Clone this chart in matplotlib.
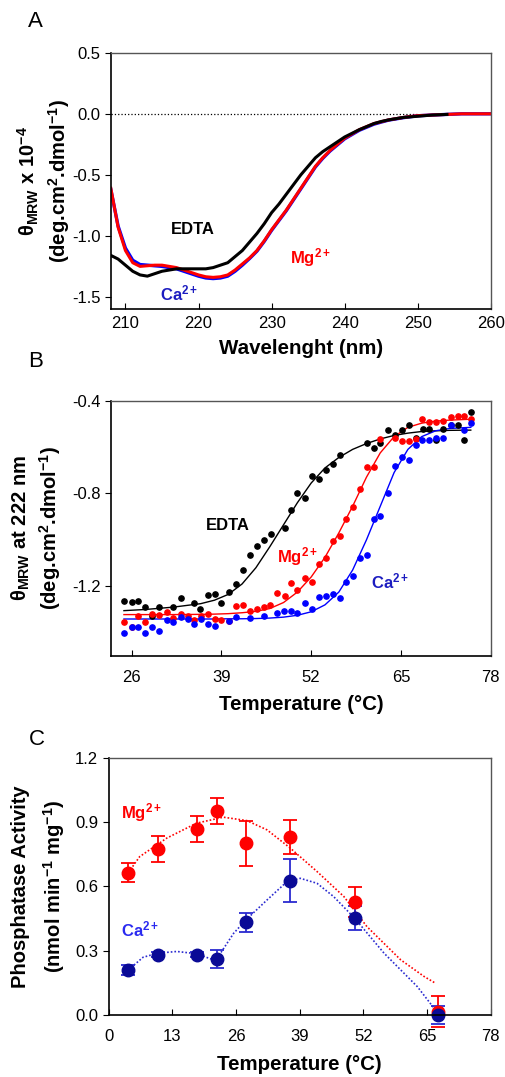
import numpy as np
import matplotlib
matplotlib.use("Agg")
import matplotlib.pyplot as plt

plt.rcParams['font.family'] = ['Liberation Sans', 'DejaVu Sans']
plt.rcParams['mathtext.fontset'] = 'custom'
plt.rcParams['mathtext.rm'] = 'Liberation Sans'
plt.rcParams['mathtext.bf'] = 'Liberation Sans:bold'
plt.rcParams['mathtext.it'] = 'Liberation Sans:italic'
plt.rcParams['mathtext.default'] = 'bf'
plt.rcParams['axes.unicode_minus'] = False

# ==== A: CD spectra ====
wl = [208, 209, 210, 211, 212, 213, 214, 215, 216, 217, 218, 219, 220, 221, 222,
      223, 224, 225, 226, 227, 228, 229, 230, 231, 232, 233, 234, 235, 236, 237,
      238, 239, 240, 242, 244, 245, 246, 248, 250, 252, 254, 256, 258, 260]
cd_edta = [-1.16, -1.19, -1.24, -1.29, -1.32, -1.33, -1.31, -1.29, -1.28, -1.27, -1.27, -1.27, -1.27, -1.27, -1.26,
           -1.24, -1.22, -1.17, -1.12, -1.05, -0.98, -0.90, -0.81, -0.74, -0.66, -0.58, -0.50, -0.43, -0.36, -0.31,
           -0.27, -0.23, -0.19, -0.13, -0.08, -0.063, -0.05, -0.03, -0.02, -0.01, -0.005, np.nan, np.nan, np.nan]
cd_mg = [-0.61, -0.93, -1.12, -1.22, -1.25, -1.245, -1.24, -1.24, -1.25, -1.26, -1.28, -1.30, -1.32, -1.335, -1.34,
         -1.335, -1.32, -1.28, -1.23, -1.18, -1.12, -1.04, -0.95, -0.87, -0.79, -0.70, -0.61, -0.52, -0.43, -0.36,
         -0.30, -0.25, -0.20, -0.13, -0.08, -0.065, -0.05, -0.03, -0.015, -0.01, -0.005, 0.0, 0.0, 0.0]
cd_ca = [-0.62, -0.92, -1.10, -1.20, -1.235, -1.24, -1.245, -1.25, -1.26, -1.27, -1.29, -1.31, -1.33, -1.345, -1.35,
         -1.345, -1.33, -1.29, -1.24, -1.185, -1.125, -1.045, -0.955, -0.875, -0.795, -0.705, -0.615, -0.525, -0.435, -0.365,
         -0.305, -0.255, -0.205, -0.135, -0.085, -0.068, -0.052, -0.032, -0.016, -0.01, -0.005, 0.0, 0.0, 0.0]

# ==== B: thermal melts ====
t_edta = [24.9, 26.0, 27.0, 28.0, 29.0, 30.0, 32.0, 33.2, 35.1, 35.9, 37.0, 38.1, 39.0, 40.1, 41.1,
          42.2, 43.2, 44.1, 45.1, 46.2, 48.2, 49.1, 50.0, 51.1, 52.1, 53.1, 54.1, 55.1, 56.1, 60.1,
          61.1, 62.0, 63.1, 64.1, 65.2, 66.1, 67.1, 68.2, 69.1, 70.1, 71.1, 72.2, 73.2, 74.1, 75.1]
y_edta = [-1.262, -1.269, -1.262, -1.29, -1.327, -1.29, -1.29, -1.25, -1.27, -1.30, -1.237, -1.233, -1.27, -1.225, -1.19,
          -1.128, -1.067, -1.025, -1.002, -0.974, -0.949, -0.873, -0.798, -0.818, -0.723, -0.737, -0.70, -0.671, -0.633, -0.584,
          -0.606, -0.584, -0.528, -0.548, -0.528, -0.505, -0.56, -0.524, -0.522, -0.57, -0.522, -0.505, -0.505, -0.57, -0.448]

t_mg = [24.9, 26.0, 27.0, 28.0, 29.0, 30.0, 31.1, 32.0, 33.2, 34.1, 35.1, 36.0, 37.0, 38.1, 39.0, 40.1,
        41.1, 42.2, 43.2, 44.1, 45.1, 46.1, 47.1, 48.2, 49.1, 50.0, 51.1, 52.1, 53.1, 54.1, 55.1, 56.1,
        57.1, 58.0, 59.0, 60.1, 61.1, 62.0, 64.1, 65.2, 66.1, 67.1, 68.1, 69.1, 70.1, 71.1, 72.2, 73.2, 74.1, 75.1]
y_mg = [-1.355, -1.377, -1.33, -1.355, -1.318, -1.322, -1.31, -1.335, -1.318, -1.33, -1.345, -1.33, -1.318, -1.34, -1.345, -1.35,
        -1.286, -1.28, -1.305, -1.30, -1.29, -1.28, -1.229, -1.24, -1.187, -1.216, -1.164, -1.18, -1.103, -1.077, -1.007, -0.984,
        -0.912, -0.858, -0.78, -0.685, -0.685, -0.566, -0.56, -0.574, -0.574, -0.566, -0.479, -0.49, -0.494, -0.488, -0.469, -0.466, -0.466, -0.48]

t_ca = [24.9, 26.0, 27.0, 28.0, 29.0, 30.0, 31.1, 32.0, 33.2, 34.1, 35.1, 36.0, 37.0, 38.1, 40.1, 41.1,
        43.2, 45.1, 47.0, 48.0, 49.1, 50.0, 51.1, 52.1, 53.1, 54.1, 55.1, 56.1, 57.1, 58.0, 59.0, 60.1,
        61.1, 62.0, 63.1, 64.1, 65.2, 66.1, 67.1, 68.1, 69.1, 70.1, 71.1, 72.2, 74.1, 75.1]
y_ca = [-1.403, -1.377, -1.377, -1.403, -1.377, -1.394, -1.345, -1.355, -1.334, -1.34, -1.363, -1.34, -1.363, -1.37, -1.348, -1.334,
        -1.337, -1.33, -1.315, -1.305, -1.305, -1.315, -1.273, -1.298, -1.247, -1.244, -1.233, -1.252, -1.182, -1.154, -1.077, -1.067,
        -0.912, -0.899, -0.798, -0.681, -0.645, -0.656, -0.592, -0.57, -0.57, -0.563, -0.56, -0.505, -0.527, -0.498]

# fitted curves
t_fit = [24.9, 28, 32, 36, 38, 40, 42, 44, 46, 48, 50, 52, 54, 56, 58, 60, 62, 64, 66, 68, 70, 72, 75.1]
fit_edta = [-1.305, -1.30, -1.29, -1.275, -1.26, -1.235, -1.19, -1.12, -1.03, -0.935, -0.84, -0.755, -0.69, -0.645, -0.61,
            -0.585, -0.565, -0.55, -0.54, -0.533, -0.53, -0.528, -0.527]
fit_mg = [-1.322, -1.322, -1.322, -1.321, -1.32, -1.318, -1.314, -1.308, -1.296, -1.27, -1.225, -1.16, -1.075, -0.97, -0.855,
          -0.73, -0.625, -0.555, -0.515, -0.497, -0.488, -0.484, -0.48]
fit_ca = [-1.341, -1.341, -1.341, -1.341, -1.341, -1.34, -1.34, -1.339, -1.337, -1.333, -1.325, -1.31, -1.28, -1.225, -1.13,
          -1.00, -0.855, -0.71, -0.61, -0.555, -0.53, -0.52, -0.515]

# ==== C: phosphatase activity ====
t_act = [4.0, 10.0, 18.1, 22.0, 28.0, 37.1, 50.2, 67.2]
act_mg = [0.664, 0.773, 0.867, 0.951, 0.80, 0.829, 0.526, 0.016]
err_mg = [0.046, 0.062, 0.062, 0.062, 0.105, 0.078, 0.07, 0.073]
act_ca = [0.210, 0.28, 0.28, 0.26, 0.432, 0.625, 0.451, 0.0]
err_ca = [0.022, 0.012, 0.012, 0.043, 0.045, 0.10, 0.055, 0.04]

t_dot_mg = [4.0, 6.3, 11.8, 17.9, 23.4, 28.2, 32.3, 37.1, 42.5, 48.0, 52.7, 59.6, 64.4, 66.7]
dot_mg = [0.664, 0.738, 0.824, 0.894, 0.922, 0.906, 0.863, 0.777, 0.669, 0.552, 0.412, 0.257, 0.179, 0.148]
t_dot_ca = [4.0, 7.0, 10.0, 13.9, 18.1, 20.7, 22.0, 25.5, 28.0, 32.3, 36.4, 39.1, 42.5, 45.9, 50.2, 56.2, 63.0, 67.2]
dot_ca = [0.21, 0.269, 0.288, 0.296, 0.285, 0.262, 0.26, 0.381, 0.443, 0.536, 0.622, 0.637, 0.614, 0.552, 0.451, 0.288, 0.132, 0.008]

RED = "#ff0000"
BLUE = "#0000ff"
NAVY = "#0a0a96"
CBLUE = "#2a2ad0"

fig = plt.figure(figsize=(5.06, 10.77), dpi=100)

def style(ax, xpad):
    for s in ["top", "right"]:
        ax.spines[s].set_color("#555555")
        ax.spines[s].set_linewidth(1.0)
    for s in ["left", "bottom"]:
        ax.spines[s].set_color("black")
        ax.spines[s].set_linewidth(1.2)
    ax.tick_params(axis="x", direction="in", length=4, labelsize=12, pad=xpad)
    ax.tick_params(axis="y", direction="out", length=4, labelsize=12)

# --- A ---
ax1 = fig.add_axes([0.219, 0.713, 0.751, 0.238])
ax1.plot([208, 250], [0, 0], color="black", linestyle=":", linewidth=0.9)
ax1.plot(wl, cd_ca, color=BLUE, linewidth=2.4)
ax1.plot(wl, cd_mg, color=RED, linewidth=2.2)
ax1.plot(wl, cd_edta, color="black", linewidth=2.2)
ax1.set_xlim(208, 260)
ax1.set_ylim(-1.6, 0.5)
ax1.set_xticks([210, 220, 230, 240, 250, 260])
ax1.set_yticks([-1.5, -1.0, -0.5, 0.0, 0.5])
ax1.set_yticklabels(["-1.5", "-1.0", "-0.5", "0.0", "0.5"])
style(ax1, 5)
ax1.set_xlabel("Wavelenght (nm)", fontsize=14.8, fontweight="bold", labelpad=6)
ax1.set_ylabel(r"$\theta_{MRW}$ x 10$^{-4}$" + "\n" + r"(deg.cm$^{2}$.dmol$^{-1}$)",
               fontsize=14.5, fontweight="bold", labelpad=0, linespacing=1.25)
ax1.text(219.2, -0.95, "EDTA", color="black", fontsize=12, fontweight="bold", ha="center", va="center")
ax1.text(232.5, -1.18, r"Mg$^{2+}$", color=RED, fontsize=12, fontweight="bold", ha="left", va="center")
ax1.text(214.7, -1.47, r"Ca$^{2+}$", color="#1c1cc0", fontsize=12, fontweight="bold", ha="left", va="center")
fig.text(0.07, 0.980, "A", fontsize=16, ha="center", va="center")

# --- B ---
ax2 = fig.add_axes([0.219, 0.391, 0.751, 0.237])
ax2.plot(t_fit, fit_edta, color="black", linewidth=1.0)
ax2.plot(t_fit, fit_mg, color=RED, linewidth=1.0)
ax2.plot(t_fit, fit_ca, color=BLUE, linewidth=1.0)
ax2.plot(t_edta, y_edta, "o", color="black", markersize=3.8)
ax2.plot(t_mg, y_mg, "o", color=RED, markersize=3.8)
ax2.plot(t_ca, y_ca, "o", color=BLUE, markersize=3.8)
ax2.set_xlim(23, 78)
ax2.set_ylim(-1.5, -0.4)
ax2.set_xticks([26, 39, 52, 65, 78])
ax2.set_yticks([-1.2, -0.8, -0.4])
ax2.set_yticklabels(["-1.2", "-0.8", "-0.4"])
style(ax2, 10)
ax2.set_xlabel("Temperature (°C)", fontsize=14.8, fontweight="bold", labelpad=7)
ax2.set_ylabel(r"$\theta_{MRW}$ at 222 nm" + "\n" + r"(deg.cm$^{2}$.dmol$^{-1}$)",
               fontsize=14.5, fontweight="bold", labelpad=6, linespacing=1.3)
ax2.text(39.9, -0.937, "EDTA", color="black", fontsize=12, fontweight="bold", ha="center", va="center")
ax2.text(47.0, -1.07, r"Mg$^{2+}$", color=RED, fontsize=12, fontweight="bold", ha="left", va="center")
ax2.text(60.6, -1.18, r"Ca$^{2+}$", color="#1c1cc0", fontsize=12, fontweight="bold", ha="left", va="center")
fig.text(0.07, 0.664, "B", fontsize=16, ha="center", va="center")

# --- C ---
ax3 = fig.add_axes([0.215, 0.0576, 0.755, 0.239])
ax3.plot(t_dot_mg, dot_mg, color=RED, linestyle=(0, (1, 1.2)), linewidth=1.2)
ax3.plot(t_dot_ca, dot_ca, color=CBLUE, linestyle=(0, (1, 1.2)), linewidth=1.2)
ax3.errorbar(t_act, act_mg, yerr=err_mg, fmt="o", color=RED, ecolor=RED,
             markersize=9, capsize=5, elinewidth=1.3, capthick=1.3)
ax3.errorbar(t_act, act_ca, yerr=err_ca, fmt="o", color=NAVY, ecolor=CBLUE,
             markersize=9, capsize=5, elinewidth=1.3, capthick=1.3)
ax3.set_xlim(0, 78)
ax3.set_ylim(0, 1.2)
ax3.set_xticks([0, 13, 26, 39, 52, 65, 78])
ax3.set_yticks([0.0, 0.3, 0.6, 0.9, 1.2])
ax3.set_yticklabels(["0.0", "0.3", "0.6", "0.9", "1.2"])
style(ax3, 10)
for ln in ax3.lines:
    ln.set_clip_on(False)
ax3.set_xlabel("Temperature (°C)", fontsize=14.8, fontweight="bold", labelpad=8)
ax3.set_ylabel("Phosphatase Activity" + "\n" + r"(nmol min$^{-1}$ mg$^{-1}$)",
               fontsize=14.5, fontweight="bold", labelpad=6, linespacing=1.55)
ax3.text(2.4, 0.945, r"Mg$^{2+}$", color=RED, fontsize=12, fontweight="bold", ha="left", va="center")
ax3.text(2.4, 0.40, r"Ca$^{2+}$", color="#2a2af0", fontsize=12, fontweight="bold", ha="left", va="center")
fig.text(0.073, 0.313, "C", fontsize=16, ha="center", va="center")

fig.savefig("out.png", dpi=100)
